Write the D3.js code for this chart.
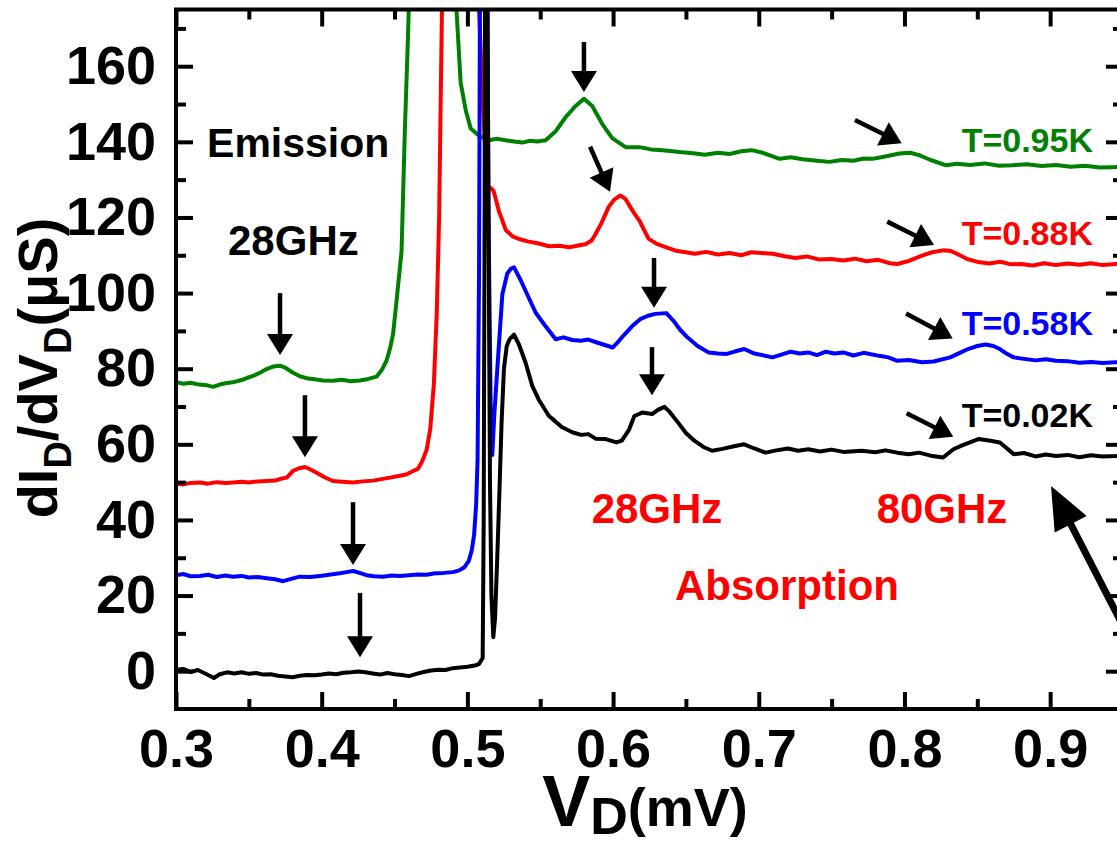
<!DOCTYPE html>
<html><head><meta charset="utf-8">
<script src="https://cdn.jsdelivr.net/npm/d3@7"></script>
<style>
body{margin:0;background:#fff;}
svg{display:block;font-family:"Liberation Sans",Arial,Helvetica,sans-serif;font-weight:bold;}
</style></head><body>
<svg id="chart" width="1117" height="845"></svg>
<script>
// ---------------- data ----------------
const xDomain = [0.3, 0.95];
const yDomain = [-10, 175];
const xMajorTicks = [0.3, 0.4, 0.5, 0.6, 0.7, 0.8, 0.9];
const xMinorTicks = [0.35, 0.45, 0.55, 0.65, 0.75, 0.85, 0.95];
const yMajorTicks = [0, 20, 40, 60, 80, 100, 120, 140, 160];
const yMinorTicks = [10, 30, 50, 70, 90, 110, 130, 150, 170];

const seriesNames = ["T=0.95K", "T=0.88K", "T=0.58K", "T=0.02K"];

const curve095 = [[0.300,76.4],[0.305,76.0],[0.310,76.3],[0.316,75.8],[0.3215,75.6],[0.3255,75.2],[0.330,75.8],[0.335,76.2],[0.339,76.4],[0.345,77.0],[0.349,77.6],[0.353,78.1],[0.358,79.0],[0.3622,79.9],[0.367,80.6],[0.3713,80.8],[0.375,80.3],[0.380,79.0],[0.385,78.0],[0.3896,77.5],[0.395,77.2],[0.401,76.9],[0.4077,76.8],[0.414,77.1],[0.420,76.7],[0.4262,76.9],[0.432,77.3],[0.4376,77.9],[0.441,79.5],[0.4445,82.1],[0.447,85.5],[0.449,89.2],[0.4514,98],[0.4548,111],[0.457,142],[0.4593,168.7],[0.4615,200],[0.4905,200],[0.4925,175],[0.4954,155.6],[0.4989,148.3],[0.5023,143.5],[0.508,141.6],[0.5149,140.4],[0.520,140.8],[0.5263,140.4],[0.532,140.1],[0.5377,139.8],[0.543,140.3],[0.548,140.1],[0.5537,140.4],[0.5606,142.8],[0.5674,146.5],[0.5743,149.5],[0.580,151.4],[0.5857,149.5],[0.5926,144.7],[0.5994,141.0],[0.6086,138.6],[0.618,138.6],[0.626,138.0],[0.634,137.8],[0.6457,137.3],[0.655,137.0],[0.663,136.6],[0.672,137.1],[0.680,136.8],[0.688,137.5],[0.695,137.8],[0.702,137.2],[0.7143,135.5],[0.722,135.9],[0.730,135.4],[0.740,135.0],[0.7486,134.7],[0.757,135.2],[0.765,135.0],[0.772,135.6],[0.778,135.5],[0.785,136.0],[0.7966,136.9],[0.804,137.1],[0.810,136.5],[0.818,135.2],[0.8286,133.8],[0.836,134.2],[0.845,133.9],[0.855,134.3],[0.865,133.7],[0.874,133.8],[0.884,134.1],[0.894,133.6],[0.904,133.9],[0.914,133.4],[0.924,133.7],[0.934,133.2],[0.9427,133.3],[0.950,133.4]];

const curve088 = [[0.300,49.6],[0.305,49.4],[0.310,49.8],[0.3165,49.9],[0.322,49.6],[0.328,50.0],[0.334,49.8],[0.339,49.9],[0.345,50.1],[0.350,49.9],[0.356,50.2],[0.3622,50.3],[0.368,50.4],[0.372,50.9],[0.376,51.2],[0.3803,53.0],[0.384,53.6],[0.3885,54.0],[0.392,53.4],[0.3965,52.5],[0.402,51.3],[0.4077,50.3],[0.414,50.1],[0.4216,49.9],[0.428,50.2],[0.4353,50.4],[0.441,50.8],[0.447,51.2],[0.4536,51.7],[0.458,52.0],[0.462,52.8],[0.466,53.5],[0.469,55.5],[0.472,58.5],[0.4745,64],[0.477,76],[0.479,95],[0.4806,120],[0.482,160],[0.4835,200],[0.5065,200],[0.508,175],[0.5103,153],[0.5126,135],[0.5144,127.5],[0.516,127.8],[0.518,127.0],[0.5217,121.6],[0.5263,116.7],[0.531,115.0],[0.5354,114.3],[0.542,113.6],[0.549,113.1],[0.556,112.4],[0.563,112.5],[0.570,112.1],[0.576,112.6],[0.581,112.9],[0.5853,113.9],[0.5878,115.5],[0.592,118.5],[0.597,122.8],[0.601,124.8],[0.605,125.8],[0.6085,124.9],[0.6118,122.8],[0.615,120.8],[0.618,119.2],[0.6243,114.4],[0.630,113.0],[0.6365,112.1],[0.643,111.2],[0.650,110.8],[0.656,110.4],[0.664,110.9],[0.672,110.2],[0.680,110.6],[0.688,110.0],[0.695,110.8],[0.7095,110.4],[0.717,109.8],[0.725,109.3],[0.733,109.7],[0.741,108.9],[0.750,109.0],[0.758,108.6],[0.766,109.1],[0.774,108.4],[0.782,108.8],[0.790,107.9],[0.795,107.7],[0.803,108.5],[0.812,109.9],[0.819,110.8],[0.8265,111.3],[0.832,111.1],[0.836,110.4],[0.843,109.0],[0.8507,108.2],[0.858,107.8],[0.866,108.3],[0.873,107.6],[0.880,107.7],[0.888,107.3],[0.896,107.9],[0.904,107.4],[0.912,107.8],[0.920,107.5],[0.928,107.9],[0.936,107.4],[0.945,107.7],[0.950,107.8]];

const curve058 = [[0.300,25.4],[0.305,25.7],[0.310,25.1],[0.3165,25.2],[0.322,25.5],[0.328,24.9],[0.334,25.3],[0.339,25.0],[0.345,25.2],[0.350,24.8],[0.356,24.9],[0.3622,24.6],[0.368,24.3],[0.3736,23.8],[0.379,24.4],[0.385,25.0],[0.392,24.9],[0.3988,25.2],[0.405,25.5],[0.4125,25.9],[0.417,26.2],[0.4216,26.5],[0.426,26.0],[0.4308,25.4],[0.436,25.1],[0.4422,25.0],[0.448,25.3],[0.4536,25.2],[0.460,25.4],[0.466,25.6],[0.472,25.5],[0.478,25.9],[0.484,26.0],[0.490,26.2],[0.494,26.6],[0.498,27.5],[0.501,29.2],[0.503,32],[0.5046,36],[0.506,44],[0.507,56],[0.508,105],[0.5088,200],[0.5135,200],[0.5145,120],[0.516,70],[0.5171,57.2],[0.5185,68],[0.5206,80.3],[0.524,99.7],[0.5274,105.2],[0.530,106.5],[0.532,106.8],[0.5366,103.4],[0.541,99.7],[0.5469,94.8],[0.5537,91.2],[0.5606,87.8],[0.566,88.3],[0.572,87.6],[0.578,87.4],[0.583,87.7],[0.590,86.8],[0.5997,85.6],[0.603,86.9],[0.607,88.7],[0.613,91.2],[0.619,93.2],[0.624,94.0],[0.629,94.5],[0.6365,94.7],[0.6414,92.7],[0.646,90.3],[0.651,88.3],[0.658,86.0],[0.6656,84.3],[0.672,84.0],[0.678,83.9],[0.684,84.6],[0.690,85.2],[0.697,84.0],[0.7095,83.0],[0.716,83.8],[0.722,84.5],[0.728,84.0],[0.734,84.3],[0.740,83.6],[0.746,84.5],[0.752,84.0],[0.758,84.3],[0.765,83.5],[0.772,84.2],[0.7826,83.4],[0.789,83.0],[0.795,82.1],[0.803,82.3],[0.812,81.7],[0.820,81.9],[0.8314,83.0],[0.838,84.2],[0.8436,85.2],[0.850,86.0],[0.8557,86.4],[0.861,86.0],[0.8655,85.2],[0.870,84.0],[0.875,83.0],[0.882,82.6],[0.890,82.2],[0.897,82.5],[0.904,82.1],[0.912,82.0],[0.920,81.6],[0.928,81.8],[0.936,81.5],[0.945,81.7],[0.950,81.6]];

const curve002 = [[0.300,0.4],[0.305,0.6],[0.310,-0.2],[0.315,0.3],[0.320,-0.6],[0.326,-1.8],[0.330,-0.8],[0.335,-0.3],[0.340,-0.6],[0.345,-0.3],[0.350,-0.7],[0.355,-0.5],[0.360,-0.9],[0.365,-0.8],[0.370,-1.2],[0.375,-1.4],[0.380,-1.6],[0.385,-1.2],[0.390,-1.0],[0.395,-1.1],[0.400,-0.9],[0.405,-0.6],[0.410,-0.8],[0.415,-0.4],[0.420,-0.3],[0.425,-0.1],[0.430,-0.3],[0.435,-0.6],[0.440,-0.9],[0.445,-0.5],[0.450,-0.8],[0.455,-1.0],[0.460,-1.3],[0.465,-0.7],[0.470,-0.2],[0.475,0.2],[0.480,0.4],[0.485,0.3],[0.490,0.8],[0.495,1.0],[0.500,1.2],[0.505,1.5],[0.508,1.9],[0.5105,3.5],[0.5112,40],[0.5118,120],[0.5122,200],[0.5135,200],[0.5145,120],[0.5155,50],[0.5165,20],[0.5178,9],[0.519,14],[0.5205,30],[0.5217,44],[0.5235,66],[0.5251,80],[0.527,86],[0.529,87.8],[0.532,89],[0.5354,86.4],[0.540,81.5],[0.5446,75.4],[0.549,71.8],[0.556,67.5],[0.560,66.2],[0.565,64.5],[0.572,63.2],[0.578,62.5],[0.583,62.7],[0.588,61.5],[0.595,61.4],[0.6023,60.5],[0.606,61.0],[0.611,63.9],[0.6146,67.5],[0.620,68.4],[0.6268,68.0],[0.631,69.2],[0.6353,69.9],[0.639,68.5],[0.6437,66.2],[0.650,63.0],[0.656,60.9],[0.662,59.3],[0.668,58.3],[0.675,58.8],[0.683,59.5],[0.690,60.0],[0.697,58.9],[0.7047,57.8],[0.712,58.4],[0.720,58.9],[0.727,58.3],[0.734,58.7],[0.742,58.1],[0.750,58.6],[0.758,58.0],[0.7705,58.3],[0.780,57.9],[0.787,58.4],[0.795,57.8],[0.803,57.4],[0.810,57.8],[0.818,57.0],[0.8265,56.5],[0.8336,58.7],[0.840,59.8],[0.8507,61.4],[0.858,61.0],[0.8655,60.5],[0.870,59.0],[0.875,57.4],[0.882,57.7],[0.890,56.8],[0.897,57.3],[0.904,56.9],[0.912,57.2],[0.920,56.6],[0.928,57.1],[0.936,56.8],[0.945,56.9],[0.950,57.0]];

// annotation texts: [text, x (mV), y (uS), colour key]
const annotationTexts = [
  ["Emission", 0.3213, 136.0, "black"],
  ["28GHz", 0.3357, 110.1, "black"],
  ["28GHz", 0.5853, 39.2, "red"],
  ["80GHz", 0.7809, 39.2, "red"],
  ["Absorption", 0.6425, 18.8, "red"]
];
// temperature labels anchored at their right end
const tempLabelX = 0.9294;
const tempLabelY = [137.3, 112.7, 88.9, 64.6];

// arrows: [x0, y0, x1(tip), y1(tip)] in data units
const arrows = [
  [0.3714,100.0,0.3714,83.6],
  [0.3885,73.0,0.3885,56.6],
  [0.4215,44.7,0.4215,28.1],
  [0.4263,20.7,0.4263,3.7],
  [0.5800,166.4,0.5800,153.2],
  [0.5842,138.7,0.5979,126.8],
  [0.6281,109.3,0.6281,96.1],
  [0.6267,85.7,0.6267,73.0],
  [0.7660,145.8,0.7981,139.6],
  [0.7882,118.9,0.8203,112.7],
  [0.8011,94.6,0.8331,88.0],
  [0.8015,68.2,0.8335,62.0]
];
const bigArrow = [0.9611, 3.7, 0.9006, 49.0];

// ---------------- drawing ----------------
const colors = {"T=0.95K":"#008000","T=0.88K":"#ff0000","T=0.58K":"#0000ff","T=0.02K":"#000000", black:"#000000", red:"#ff0000"};
const curves = [curve095, curve088, curve058, curve002];

const L = 176, R = 1123, T = 9.5, B = 709;
const svg = d3.select("#chart");
const x = d3.scaleLinear().domain(xDomain).range([L, R]);
const y = d3.scaleLinear().domain(yDomain).range([B, T]);

svg.append("defs").append("clipPath").attr("id","plotclip")
  .append("rect").attr("x",L).attr("y",T).attr("width",R-L).attr("height",B-T);

const line = d3.line().x(d=>x(d[0])).y(d=>y(d[1]));
const gCurves = svg.append("g").attr("clip-path","url(#plotclip)");
curves.forEach((c,i)=>{
  gCurves.append("path").datum(c).attr("d",line)
    .attr("fill","none").attr("stroke",colors[seriesNames[i]])
    .attr("stroke-width",4).attr("stroke-linejoin","round");
});

// axes
function styleAxis(g){
  g.select(".domain").remove();
  g.selectAll(".tick line").attr("stroke","#000").attr("stroke-width",4);
  g.selectAll(".tick text").attr("fill","#000").attr("font-size",54).attr("font-weight","bold")
    .attr("font-family",'"Liberation Sans",Arial,sans-serif');
}
const fmtX = d3.format(".1f");
svg.append("g").attr("transform",`translate(0,${B})`)
  .call(d3.axisBottom(x).tickValues(xMajorTicks).tickSize(-17).tickPadding(20).tickFormat(fmtX)).call(styleAxis);
svg.append("g").attr("transform",`translate(0,${B})`)
  .call(d3.axisBottom(x).tickValues(xMinorTicks).tickSize(-10).tickFormat("")).call(styleAxis);
svg.append("g").attr("transform",`translate(0,${T})`)
  .call(d3.axisTop(x).tickValues(xMajorTicks).tickSize(-17).tickFormat("")).call(styleAxis);
svg.append("g").attr("transform",`translate(0,${T})`)
  .call(d3.axisTop(x).tickValues(xMinorTicks).tickSize(-10).tickFormat("")).call(styleAxis);
svg.append("g").attr("transform",`translate(${L},0)`)
  .call(d3.axisLeft(y).tickValues(yMajorTicks).tickSize(-17).tickPadding(20).tickFormat(d3.format("d"))).call(styleAxis);
svg.append("g").attr("transform",`translate(${L},0)`)
  .call(d3.axisLeft(y).tickValues(yMinorTicks).tickSize(-10).tickFormat("")).call(styleAxis);
svg.append("g").attr("transform",`translate(${R},0)`)
  .call(d3.axisRight(y).tickValues(yMajorTicks).tickSize(-17).tickFormat("")).call(styleAxis);
svg.append("g").attr("transform",`translate(${R},0)`)
  .call(d3.axisRight(y).tickValues(yMinorTicks).tickSize(-10).tickFormat("")).call(styleAxis);

svg.append("rect").attr("x",L).attr("y",T).attr("width",R-L).attr("height",B-T)
  .attr("fill","none").attr("stroke","#000").attr("stroke-width",4);

// axis titles
const xt = svg.append("text").attr("x",645).attr("y",826).attr("text-anchor","middle").attr("fill","#000");
xt.append("tspan").attr("font-size",72).text("V");
xt.append("tspan").attr("font-size",52).attr("dy",8).text("D");
xt.append("tspan").attr("font-size",54).attr("dy",-8).text("(mV)");

const yt = svg.append("text").attr("transform","translate(57,368) rotate(-90)")
  .attr("text-anchor","middle").attr("fill","#000").attr("font-size",56);
yt.append("tspan").text("dI");
yt.append("tspan").attr("font-size",38).attr("dy",14).text("D");
yt.append("tspan").attr("dy",-14).text("/dV");
yt.append("tspan").attr("font-size",38).attr("dy",14).text("D");
yt.append("tspan").attr("dy",-14).text("(μS)");

// annotations
annotationTexts.forEach(a=>{
  svg.append("text").attr("x",x(a[1])).attr("y",y(a[2]))
    .attr("font-size", a[0]==="Emission"?41:42).attr("fill",colors[a[3]]).text(a[0]);
});
seriesNames.forEach((n,i)=>{
  svg.append("text").attr("x",x(tempLabelX)).attr("y",y(tempLabelY[i]))
    .attr("text-anchor","end").attr("font-size",34).attr("fill",colors[n]).text(n);
});

function drawArrow(a, headLen, halfW, shaftW){
  const x0=x(a[0]), y0=y(a[1]), x1=x(a[2]), y1=y(a[3]);
  const dx=x1-x0, dy=y1-y0, len=Math.hypot(dx,dy), ux=dx/len, uy=dy/len;
  const bx=x1-ux*headLen, by=y1-uy*headLen;
  svg.append("line").attr("x1",x0).attr("y1",y0).attr("x2",bx+ux*2).attr("y2",by+uy*2)
    .attr("stroke","#000").attr("stroke-width",shaftW);
  svg.append("path").attr("d",`M${x1},${y1}L${bx-uy*halfW},${by+ux*halfW}L${bx+uy*halfW},${by-ux*halfW}Z`)
    .attr("fill","#000");
}
arrows.forEach(a=>drawArrow(a,21,13,4.5));
drawArrow(bigArrow,43,18,7);
</script>
</body></html>
